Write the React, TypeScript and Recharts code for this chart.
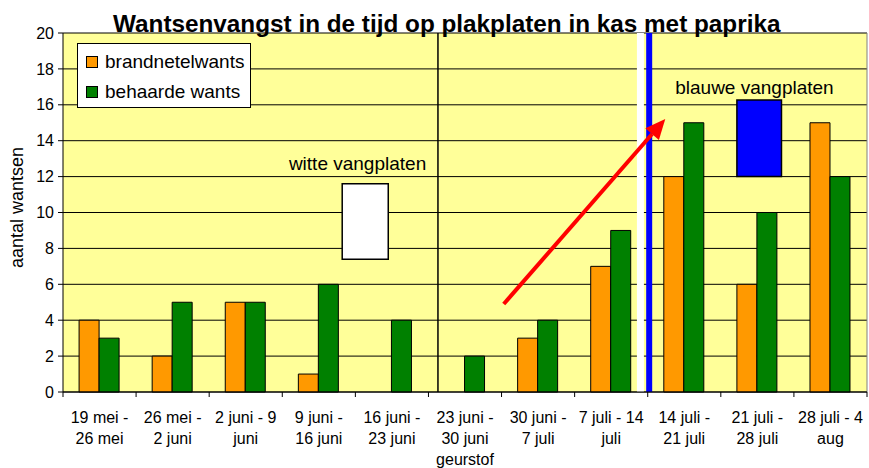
import React from "react"
import {
  BarChart,
  Bar,
  XAxis,
  YAxis,
  CartesianGrid,
  Legend,
  ReferenceLine,
  ReferenceArea,
  ReferenceDot,
} from "recharts"

const periods = [
  "19 mei -\n26 mei",
  "26 mei -\n2 juni",
  "2 juni - 9\njuni",
  "9 juni -\n16 juni",
  "16 juni -\n23 juni",
  "23 juni -\n30 juni\ngeurstof",
  "30 juni -\n7 juli",
  "7 juli - 14\njuli",
  "14 juli -\n21 juli",
  "21 juli -\n28 juli",
  "28 juli - 4\naug",
]
const brandnetelwants = [4, 2, 5, 1, 0, 0, 3, 7, 12, 6, 15]
const behaardeWants = [3, 5, 5, 6, 4, 2, 4, 9, 15, 10, 12]
const yTicks = [0, 2, 4, 6, 8, 10, 12, 14, 16, 18, 20]
const seriesNames = ["brandnetelwants", "behaarde wants"]

const data = periods.map((p, i) => ({
  period: p,
  slot: i,
  brandnetel: brandnetelwants[i],
  behaard: behaardeWants[i],
}))

const FONT = '"Liberation Sans", Arial, sans-serif'

const XTick = (props: any) => {
  const { x, y, payload, index, visibleTicksCount } = props
  const half = payload.offset ?? 36.5
  const lines = String(payload.value).split("\n")
  return (
    <g>
      <line x1={x - half} x2={x - half} y1={y - 5} y2={y} stroke="#000" />
      {index === visibleTicksCount - 1 && (
        <line x1={x + half} x2={x + half} y1={y - 5} y2={y} stroke="#000" />
      )}
      <text x={x} y={y} textAnchor="middle" fontSize={16} fill="#000" fontFamily={FONT}>
        {lines.map((l, i) => (
          <tspan key={i} x={x} dy={i === 0 ? 25.5 : 21}>
            {l}
          </tspan>
        ))}
      </text>
    </g>
  )
}

const LegendBox = (props: any) => {
  const items = [...(props.payload || [])].sort(
    (a: any, b: any) => seriesNames.indexOf(a.value) - seriesNames.indexOf(b.value)
  )
  return (
    <div
      style={{
        width: 174,
        height: 65,
        boxSizing: "border-box",
        border: "1px solid #000",
        background: "#fff",
        paddingTop: 3,
        fontFamily: FONT,
        fontSize: 19,
        color: "#000",
      }}
    >
      {items.map((e: any) => (
        <div key={e.value} style={{ height: 30, display: "flex", alignItems: "center" }}>
          <span
            style={{
              display: "inline-block",
              width: 10,
              height: 10,
              marginLeft: 8,
              marginRight: 7,
              background: e.color,
              border: "1px solid #000",
            }}
          />
          <span>{e.value}</span>
        </div>
      ))}
    </div>
  )
}

const Arrow = (props: any) => {
  const { x1, y1, x2, y2 } = props
  const ang = Math.atan2(y2 - y1, x2 - x1)
  const len = 20
  const w = 9
  const bx = x2 - len * Math.cos(ang)
  const by = y2 - len * Math.sin(ang)
  const px = -Math.sin(ang) * w
  const py = Math.cos(ang) * w
  return (
    <g>
      <line x1={x1} y1={y1} x2={bx} y2={by} stroke="#ff0000" strokeWidth={4} />
      <polygon
        points={`${x2},${y2} ${bx + px},${by + py} ${bx - px},${by - py}`}
        fill="#ff0000"
      />
    </g>
  )
}

export default function App() {
  return (
    <div style={{ position: "absolute", left: 0, top: 0, width: 869, height: 468 }}>
      <div
        style={{
          position: "absolute",
          left: 113,
          top: 12,
          fontFamily: FONT,
          fontWeight: "bold",
          fontSize: 24.3,
          lineHeight: "24px",
          whiteSpace: "nowrap",
          zIndex: 2,
          color: "#000",
        }}
      >
        Wantsenvangst in de tijd op plakplaten in kas met paprika
      </div>
      <BarChart
        width={869}
        height={468}
        data={data}
        margin={{ top: 33, right: 2, bottom: 0, left: 0 }}
        barCategoryGap="22%"
        barGap={0}
      >
        <CartesianGrid vertical={false} stroke="#000" fill="#FFFF99" fillOpacity={1} />
        <XAxis
          xAxisId="cat"
          dataKey="period"
          height={76}
          tickSize={5}
          tickMargin={0}
          tickLine={false}
          interval={0}
          stroke="#000"
          tick={<XTick />}
        />
        <XAxis
          xAxisId="num"
          dataKey="slot"
          type="number"
          domain={[0, 11]}
          allowDataOverflow
          hide
        />
        <YAxis
          width={63}
          domain={[0, 20]}
          ticks={yTicks}
          interval={0}
          tickSize={5}
          tickMargin={4}
          stroke="#000"
          tick={{ fill: "#000", fontSize: 16, fontFamily: FONT }}
          label={{
            value: "aantal wantsen",
            angle: -90,
            position: "insideLeft",
            offset: 17,
            dy: -5,
            style: { textAnchor: "middle", fontSize: 18, fill: "#000", fontFamily: FONT },
          }}
        />
        <Legend
          layout="horizontal"
          verticalAlign="middle"
          align="center"
          wrapperStyle={{ left: 77, top: 43, width: 174 }}
          content={<LegendBox />}
        />
        <Bar
          xAxisId="cat"
          dataKey="brandnetel"
          name="brandnetelwants"
          fill="#FF9900"
          stroke="#000"
          strokeWidth={1}
          isAnimationActive={false}
        />
        <Bar
          xAxisId="cat"
          dataKey="behaard"
          name="behaarde wants"
          fill="#008000"
          stroke="#000"
          strokeWidth={1}
          isAnimationActive={false}
        />
        <ReferenceLine xAxisId="num" x={11} stroke="#808080" />
        <ReferenceLine xAxisId="num" x={5.13} stroke="#000" strokeWidth={1.5} />
        <ReferenceLine xAxisId="num" x={7.9} stroke="#fff" strokeWidth={7} />
        <ReferenceLine xAxisId="num" x={8.02} stroke="#0000FF" strokeWidth={6} />
        <ReferenceArea
          xAxisId="num"
          x1={3.82}
          x2={4.45}
          y1={7.4}
          y2={11.6}
          fill="#fff"
          fillOpacity={1}
          stroke="#000"
          strokeWidth={1.5}
        />
        <ReferenceArea
          xAxisId="num"
          x1={9.22}
          x2={9.83}
          y1={12}
          y2={16.27}
          fill="#0000FF"
          fillOpacity={1}
          stroke="#000"
          strokeWidth={1.5}
        />
        <ReferenceLine
          xAxisId="num"
          segment={[
            { x: 6.03, y: 4.9 },
            { x: 8.24, y: 15.21 },
          ]}
          shape={<Arrow />}
        />
        <ReferenceDot
          xAxisId="num"
          x={4.03}
          y={12.76}
          r={0}
          fill="none"
          stroke="none"
          label={{ value: "witte vangplaten", position: "center", fontSize: 19, fill: "#000", fontFamily: FONT }}
        />
        <ReferenceDot
          xAxisId="num"
          x={9.46}
          y={17}
          r={0}
          fill="none"
          stroke="none"
          label={{ value: "blauwe vangplaten", position: "center", fontSize: 19, fill: "#000", fontFamily: FONT }}
        />
      </BarChart>
    </div>
  )
}
